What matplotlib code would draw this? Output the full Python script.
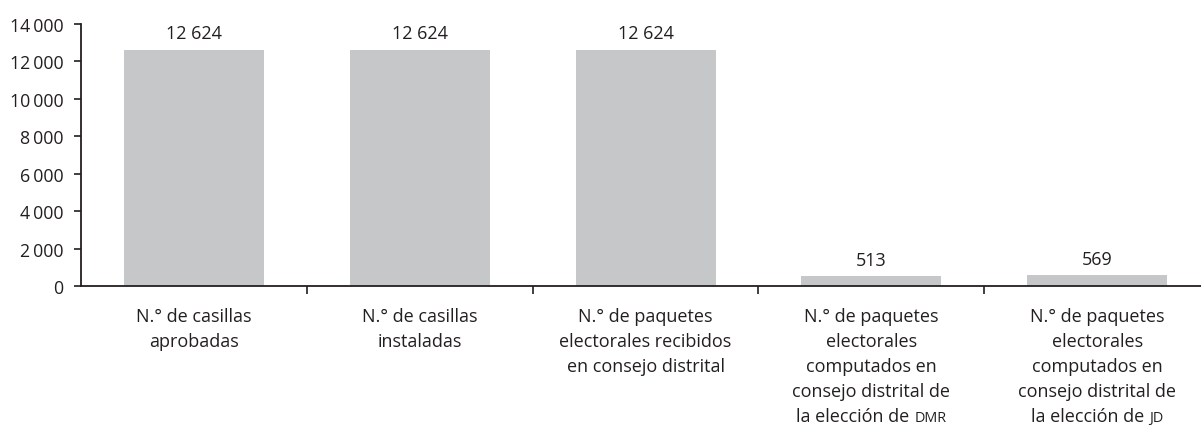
import matplotlib
matplotlib.use("Agg")
import matplotlib.pyplot as plt
from matplotlib.ticker import FuncFormatter

category_lines = [
    ["N.° de casillas", "aprobadas"],
    ["N.° de casillas", "instaladas"],
    ["N.° de paquetes", "electorales recibidos", "en consejo distrital"],
    ["N.° de paquetes", "electorales", "computados en", "consejo distrital de", "la elección de"],
    ["N.° de paquetes", "electorales", "computados en", "consejo distrital de", "la elección de"],
]
categories_smallcaps = ["", "", "", "DMR", "JD"]
values = [12624, 12624, 12624, 513, 569]
value_labels = ["12 624", "12 624", "12 624", "513", "569"]
yticks = [0, 2000, 4000, 6000, 8000, 10000, 12000, 14000]

TXT = "#231f20"
BAR = "#c6c7c9"
FONT = "Open Sans"
FS = 13.0
FS_TICK = 12.8
DPI = 100

plt.rcParams['font.family'] = [FONT, 'DejaVu Sans']

fig = plt.figure(figsize=(12.01, 4.35), dpi=DPI)
ax = fig.add_axes([81/1201, 1-287/435, 1-81/1201, (287-25)/435])

x = list(range(len(values)))
ax.bar(x, values, width=0.62, color=BAR, zorder=2)
ax.set_xlim(-0.5, 4.46)
ax.set_ylim(0, 14000)

for s in ["top", "right"]:
    ax.spines[s].set_visible(False)
for s in ["left", "bottom"]:
    ax.spines[s].set_color(TXT)
    ax.spines[s].set_linewidth(1.3)

ax.set_yticks(yticks)
ax.yaxis.set_major_formatter(FuncFormatter(lambda v, p: f"{int(v):,}".replace(",", "\u2009")))
ax.tick_params(axis="y", length=5, width=1.2, color=TXT, labelcolor=TXT, labelsize=FS_TICK, pad=7.5)
ax.set_xticks([i + 0.5 for i in range(len(values) - 1)])
ax.set_xticklabels([])
ax.tick_params(axis="x", length=6, width=1.2, color=TXT)

for xi, v, lab in zip(x, values, value_labels):
    ax.annotate(lab, (xi, v), xytext=(0, 8.4), textcoords="offset points",
                ha="center", va="baseline", fontsize=FS, color=TXT)

FIRST = 25.2   # pt below axis for first baseline
STEP = 18.0    # pt between baselines
fig.canvas.draw()
renderer = fig.canvas.get_renderer()
for xi, lines, sc in zip(x, category_lines, categories_smallcaps):
    for k, line in enumerate(lines):
        y_off = -(FIRST + k * STEP)
        if sc and k == len(lines) - 1:
            t1 = ax.annotate(line + " ", (xi, 0), xytext=(0, y_off), textcoords="offset points",
                             ha="left", va="baseline", fontsize=FS, color=TXT)
            t2 = ax.annotate(sc, (xi, 0), xytext=(0, y_off), textcoords="offset points",
                             ha="left", va="baseline", fontsize=FS * 0.8, color=TXT)
            w1 = t1.get_window_extent(renderer).width * 72 / DPI
            w2 = t2.get_window_extent(renderer).width * 72 / DPI
            start = -(w1 + w2) / 2
            t1.xyann = (start, y_off)
            t2.xyann = (start + w1, y_off)
        else:
            ax.annotate(line, (xi, 0), xytext=(0, y_off), textcoords="offset points",
                        ha="center", va="baseline", fontsize=FS, color=TXT)

fig.savefig("out.png", dpi=DPI)
